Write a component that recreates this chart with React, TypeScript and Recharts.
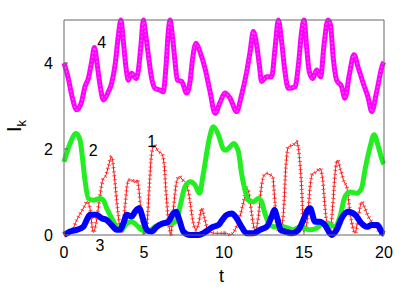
import React from 'react'
import { LineChart, Line, XAxis, YAxis, ReferenceDot } from 'recharts'

// curve 1 (red, +)
const t1 = [0, 0.3, 0.5, 0.8, 1.1, 1.3, 1.46, 1.63, 1.83, 2.04, 2.21, 2.42, 2.63, 2.77, 2.98, 3.13, 3.29, 3.5, 3.67, 3.81, 4.02, 4.23, 4.4, 4.58, 4.71, 4.85, 5.06, 5.2, 5.33, 5.48, 5.63, 5.9, 6.1, 6.25, 6.38, 6.52, 6.67, 6.83, 7.04, 7.21, 7.42, 7.63, 7.83, 8.04, 8.25, 8.46, 8.6, 8.81, 9.02, 9.54, 10.17, 10.38, 10.69, 11.0, 11.25, 11.42, 11.58, 11.73, 11.94, 12.15, 12.29, 12.46, 12.67, 12.88, 13.04, 13.19, 13.33, 13.5, 13.71, 13.88, 14.02, 14.33, 14.54, 14.71, 14.85, 14.98, 15.21, 15.38, 15.54, 15.79, 16.0, 16.17, 16.31, 16.46, 16.63, 16.79, 16.94, 17.08, 17.29, 17.5, 17.67, 17.83, 18.04, 18.19, 18.4, 18.6, 18.81, 19.02, 19.23, 19.54, 19.92, 20]
const i1 = [0, 0.03, 0.1, 0.35, 0.55, 0.68, 0.78, 0.6, 0.06, 0.35, 0.81, 1.28, 1.4, 1.59, 1.82, 1.43, 0.81, 0.19, 0.1, 0.66, 1.28, 1.28, 1.22, 1.28, 0.97, 0.35, 0.03, 0.3, 1.12, 1.9, 2.09, 1.94, 1.9, 1.67, 0.97, 0.35, 0.02, 0.58, 1.24, 1.36, 1.28, 1.2, 0.89, 0.35, 0.12, 0.35, 0.62, 0.35, 0.08, 0.04, 0.04, 0, 0.12, 0.43, 0.81, 1.09, 0.93, 0.5, 0.1, 0.43, 0.97, 1.36, 1.43, 1.4, 1.36, 0.74, 0.19, 0.06, 0.5, 1.67, 2.05, 2.09, 2.17, 1.82, 1.12, 0.08, 0.35, 1.12, 1.43, 1.47, 1.55, 1.28, 0.66, 0.19, 0.04, 0.66, 1.43, 1.74, 1.51, 1.24, 1.12, 0.66, 0.19, 0.04, 0.43, 0.77, 0.62, 0.43, 0.31, 0.16, 0, 0]

// curve 2 (green, x)
const t2 = [0, 0.38, 0.75, 1.0, 1.17, 1.31, 1.52, 1.83, 2.25, 2.46, 2.67, 2.98, 3.29, 3.6, 3.92, 4.23, 4.54, 4.85, 5.2, 5.69, 6.2, 6.73, 7.04, 7.25, 7.56, 7.88, 8.19, 8.46, 8.71, 9.02, 9.33, 9.65, 9.96, 10.1, 10.38, 10.6, 10.9, 11.1, 11.31, 11.52, 11.83, 12.15, 12.35, 12.56, 12.88, 13.19, 13.6, 14.02, 14.33, 14.75, 15.0, 15.38, 15.79, 16.2, 16.52, 16.94, 17.25, 17.56, 17.88, 18.29, 18.6, 18.81, 19.13, 19.38, 19.65, 19.96, 20]
const i2 = [1.7, 2.13, 2.36, 2.21, 1.74, 1.28, 0.85, 0.81, 0.85, 0.81, 0.62, 0.39, 0.19, 0.12, 0.27, 0.31, 0.23, 0.12, 0.08, 0.19, 0.27, 0.27, 0.35, 0.66, 1.12, 1.24, 1.16, 0.97, 1.43, 2.13, 2.52, 2.33, 2.0, 1.97, 2.05, 2.13, 1.94, 1.43, 1.05, 0.81, 0.77, 0.85, 0.77, 0.5, 0.23, 0.19, 0.19, 0.16, 0.12, 0.19, 0.16, 0.12, 0.16, 0.27, 0.27, 0.19, 0.43, 0.89, 1.0, 0.97, 1.09, 1.51, 2.05, 2.33, 2.05, 1.67, 1.65]

// curve 3 (blue, o)
const t3 = [0, 0.38, 0.79, 1.21, 1.42, 1.63, 2.04, 2.35, 2.67, 2.98, 3.29, 3.5, 3.71, 3.92, 4.23, 4.44, 4.69, 4.96, 5.17, 5.48, 5.79, 6.2, 6.52, 6.83, 7.0, 7.21, 7.46, 7.88, 8.4, 8.71, 9.02, 9.33, 9.65, 9.85, 10.17, 10.48, 10.79, 11.1, 11.42, 11.83, 12.25, 12.67, 12.98, 13.15, 13.33, 13.54, 13.81, 14.23, 14.65, 14.96, 15.17, 15.38, 15.69, 16.0, 16.31, 16.73, 17.04, 17.35, 17.77, 18.19, 18.6, 18.92, 19.23, 19.58, 19.92, 20]
const i3 = [0, 0.08, 0.12, 0.19, 0.35, 0.47, 0.47, 0.39, 0.35, 0.23, 0.12, 0.12, 0.27, 0.47, 0.43, 0.54, 0.62, 0.35, 0.12, 0.08, 0.19, 0.27, 0.31, 0.5, 0.54, 0.35, 0.08, 0, 0, 0.04, 0.12, 0.19, 0.23, 0.33, 0.47, 0.5, 0.39, 0.19, 0.04, 0.04, 0.12, 0.19, 0.43, 0.58, 0.39, 0.12, 0.08, 0.04, 0.12, 0.35, 0.54, 0.62, 0.31, 0.31, 0.23, 0, 0.12, 0.39, 0.54, 0.47, 0.27, 0.19, 0.23, 0.23, 0.04, 0.02]

// curve 4 (magenta, squares)
const t4 = [0, 0.27, 0.48, 0.79, 1.1, 1.31, 1.52, 1.73, 1.9, 2.08, 2.25, 2.46, 2.77, 2.98, 3.19, 3.4, 3.56, 3.71, 3.88, 4.02, 4.23, 4.5, 4.65, 4.81, 4.96, 5.08, 5.27, 5.48, 5.69, 6.0, 6.2, 6.38, 6.52, 6.63, 6.77, 6.94, 7.08, 7.35, 7.67, 7.88, 8.04, 8.25, 8.5, 8.81, 9.13, 9.44, 9.75, 10.06, 10.38, 10.79, 11.1, 11.42, 11.63, 11.83, 12.04, 12.21, 12.35, 12.67, 12.98, 13.19, 13.4, 13.6, 13.81, 14.02, 14.44, 14.65, 14.85, 15.0, 15.17, 15.33, 15.54, 15.79, 16.04, 16.25, 16.5, 16.65, 16.83, 17.04, 17.35, 17.56, 17.83, 18.12, 18.4, 18.7, 19.02, 19.23, 19.54, 19.92, 20]
const i4 = [4.0, 3.64, 3.26, 2.91, 3.1, 3.45, 3.64, 4.03, 4.36, 3.95, 3.49, 3.14, 3.33, 3.53, 3.95, 4.65, 5.0, 4.5, 3.88, 3.6, 3.76, 3.64, 3.84, 4.42, 5.0, 4.73, 4.19, 3.64, 3.41, 3.37, 3.33, 3.95, 4.73, 5.0, 4.65, 4.03, 3.6, 3.57, 3.3, 3.57, 4.11, 4.46, 4.26, 3.88, 3.33, 2.83, 3.08, 3.3, 3.18, 2.87, 3.26, 3.8, 4.26, 4.73, 4.42, 3.95, 3.57, 3.68, 3.68, 4.34, 5.0, 4.5, 3.8, 3.41, 3.45, 3.95, 4.73, 5.0, 4.34, 3.8, 3.64, 3.84, 3.68, 4.42, 5.0, 4.9, 4.11, 3.6, 3.45, 3.18, 3.72, 4.19, 3.88, 3.53, 3.18, 2.87, 3.33, 3.97, 4.02]

const xTicks = [0, 5, 10, 15, 20]
const yTicks = [0, 2, 4]

// curve numbers written next to the lines
const curveLabels = [
  { name: '1', t: 5.48, i: 2.17 },
  { name: '2', t: 1.83, i: 1.98 },
  { name: '3', t: 2.25, i: -0.23 },
  { name: '4', t: 2.36, i: 4.47 },
]

const rows = (ts: number[], vs: number[]) => ts.map((t, k) => ({ t, v: vs[k] }))

const red = rows(t1, i1)
const green = rows(t2, i2)
const blue = rows(t3, i3)
const magenta = rows(t4, i4)

const frame = '#666'
const tickFont = { fontSize: 16, fill: '#000' }

export default function App() {
  return (
    <div style={{ position: 'absolute', left: 0, top: 0, width: 415, height: 291, background: '#fff', fontFamily: '"Liberation Sans", Arial, sans-serif' }}>
      <LineChart width={415} height={291} margin={{ top: 10, right: 21, bottom: 0, left: 0 }}>
        <XAxis dataKey="t" type="number" domain={[0, 20]} ticks={xTicks} interval={0}
          height={56} stroke={frame} tickSize={-4} tickMargin={16} tick={tickFont} />
        <XAxis xAxisId="top" orientation="top" type="number" domain={[0, 20]} ticks={xTicks}
          height={10} stroke={frame} tickSize={-4} tick={false} />
        <YAxis type="number" domain={[0, 5]} ticks={yTicks} interval={0}
          width={64} stroke={frame} tickSize={-4} tickMargin={15} tick={tickFont} />
        <YAxis yAxisId="right" orientation="right" type="number" domain={[0, 5]} ticks={yTicks}
          width={10} stroke={frame} tickSize={-4} tick={false} />

        <Line data={red} dataKey="v" type="monotone" stroke="#ff0000" strokeWidth={1}
          dot={false} activeDot={false} isAnimationActive={false} />
        <Line data={red} dataKey="v" type="monotone" stroke="#ff2020" strokeWidth={4} strokeDasharray="1 3" strokeOpacity={0.8}
          dot={false} activeDot={false} isAnimationActive={false} />
        <Line data={green} dataKey="v" type="monotone" stroke="#22ee22" strokeWidth={5}
          dot={false} activeDot={false} isAnimationActive={false} />
        <Line data={blue} dataKey="v" type="monotone" stroke="#0000ff" strokeWidth={6}
          dot={false} activeDot={false} isAnimationActive={false} />
        <Line data={magenta} dataKey="v" type="monotone" stroke="#ff00ff" strokeWidth={5}
          dot={false} activeDot={false} isAnimationActive={false} />
        <Line data={magenta} dataKey="v" type="monotone" stroke="#ffa0ff" strokeWidth={1.5} strokeDasharray="2 2" strokeOpacity={0.45}
          dot={false} activeDot={false} isAnimationActive={false} />

        {curveLabels.map(c => (
          <ReferenceDot key={c.name} x={c.t} y={c.i} r={0} fill="none" stroke="none" ifOverflow="visible"
            label={{ value: c.name, position: 'center', fontSize: 16, fill: '#000' }} />
        ))}
      </LineChart>
      <div style={{ position: 'absolute', left: 219, top: 266, fontSize: 18 }}>t</div>
      <div style={{ position: 'absolute', left: 16, top: 126, fontSize: 20, transform: 'translate(-50%, -50%) rotate(-90deg)', whiteSpace: 'nowrap' }}>
        I<sub style={{ fontSize: 13 }}>k</sub>
      </div>
    </div>
  )
}
